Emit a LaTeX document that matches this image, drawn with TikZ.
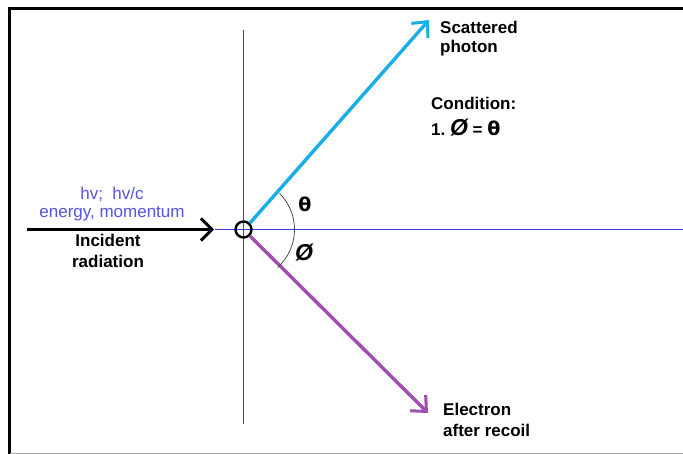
\documentclass[tikz,border=0pt]{standalone}
\usepackage{fontspec}
\setmainfont{Liberation Sans}
\newfontfamily\dvs{DejaVu Sans}
\usetikzlibrary{arrows.meta}
\definecolor{axisblue}{HTML}{3A3AE8}
\definecolor{photon}{HTML}{1AAEE6}
\definecolor{elec}{HTML}{A04DB0}
\definecolor{lbl}{HTML}{5555DD}
\tikzset{
  lab/.style={font=\fontsize{17}{21}\selectfont\bfseries, align=left, inner sep=0pt, anchor=north west},
  axis/.style={draw=axisblue, line width=1.2pt},
  ray/.style={line width=3.4pt, -{Straight Barb[length=12pt,width=22pt,line width=3pt]}},
}
\begin{document}
\begin{tikzpicture}[x=1pt,y=-1pt]
\useasboundingbox (0,0) rectangle (683,454);
\fill[white] (0,0) rectangle (683,454);
% frame
\draw[black, line width=3pt] (9.5,454) -- (9.5,8.5) -- (683,8.5);
\draw[gray!70, line width=1pt] (10,453.5) -- (683,453.5);
% axes
\coordinate (vt) at (243.5,30);
\coordinate (vb) at (243.5,424);
\coordinate (hl) at (215,229.5);
\coordinate (hr) at (683,229.5);
\draw[axis] (vt) -- (vb);
\draw[axis] (hl) -- (hr);
% origin
\node[circle, draw=black, line width=2.4pt, minimum size=16pt, inner sep=0pt, fill=none] (o) at (243.5,229.5) {};
% incident
\coordinate (inA) at (27,229.5);
\coordinate (inB) at (214,229.5);
\draw[line width=3pt, -{Straight Barb[length=11pt,width=22pt,line width=3pt]}] (inA) -- (inB);
% rays
\coordinate (ph) at (429,20);
\coordinate (el) at (428,413);
\draw[ray, photon] (o.45) -- (ph);
\draw[ray, elec] (o.-45) -- (el);
% angle arc
\draw[black!75, line width=0.7pt] (243.5,229.5) ++(48:51) arc[start angle=48, end angle=-45, radius=51];
\node[font=\dvs\bfseries\fontsize{19}{21}\selectfont, inner sep=0pt] (th) at (305,204) {θ};
\node[font=\fontsize{23}{25}\selectfont\bfseries\itshape, inner sep=0pt] (ph2) at (304,253) {Ø};
% texts
\node[font=\fontsize{17}{19}\selectfont, text=lbl, align=center, inner sep=0pt] (hv) at (112,204) {hv;\ \ hv/c\\[-1pt]energy, momentum};
\node[lab, align=center, anchor=north] (inc) at (108,234) {Incident\\radiation};
\node[lab, font=\fontsize{17}{19}\selectfont\bfseries] (sc) at (440,21) {Scattered\\photon};
\node[lab] (cond) at (431,97) {Condition:};
\node[lab, anchor=west] (c1) at (431,128) {1.\ {\fontsize{23}{25}\selectfont\itshape Ø} = {\dvs\fontsize{19}{21}\selectfont θ}};
\node[lab] (er) at (443,403) {Electron\\after recoil};
\end{tikzpicture}
\end{document}
